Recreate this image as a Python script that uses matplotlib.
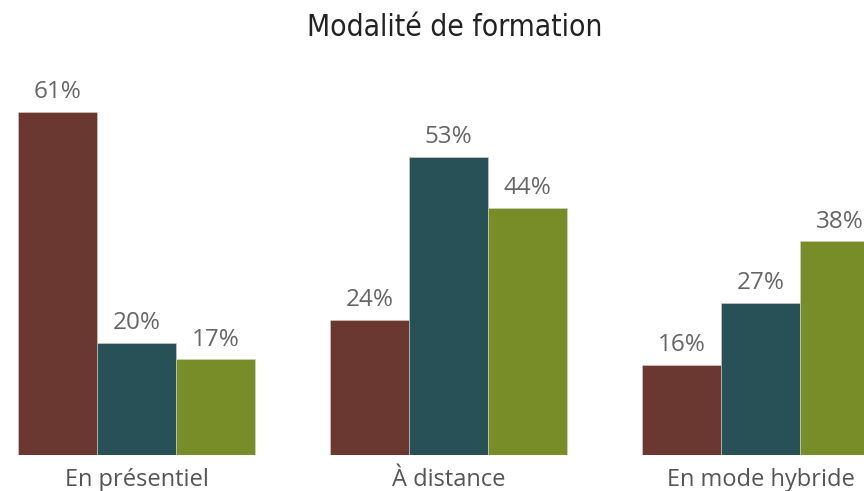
import matplotlib.pyplot as plt
import numpy as np

categories = ["En présentiel", "À distance", "En mode hybride"]
series_a = [61, 24, 16]
series_b = [20, 53, 27]
series_c = [17, 44, 38]
colors = ["#6A3830", "#285057", "#788C28"]

W, H, DPI = 8.64, 4.91, 100
fig = plt.figure(figsize=(W, H), dpi=DPI)

# axes spans full width; baseline at 455 px from top
base_px = 455
top_px = 60
ax = fig.add_axes([0, (H * DPI - base_px) / (H * DPI), 1, (base_px - top_px) / (H * DPI)])

px_per_group = 312
center0 = 136.5
ax.set_xlim(-center0 / px_per_group, (W * DPI - center0) / px_per_group)
px_per_unit = 5.62
ax.set_ylim(0, (base_px - top_px) / px_per_unit)

x = np.arange(len(categories))
bw = 79 / px_per_group
label_font = "Open Sans"
for i, (vals, col) in enumerate(zip([series_a, series_b, series_c], colors)):
    pos = x + (i - 1) * bw
    ax.bar(pos, vals, width=bw, color=col, edgecolor="#d8d0cc", linewidth=0.4)
    for p, v in zip(pos, vals):
        ax.text(p, v + 1.4, f"{v}%", ha="center", va="bottom",
                fontsize=17.5, color="#666666", family=label_font)

ax.set_xticks(x)
ax.set_xticklabels(categories, fontsize=17, color="#555555", family=label_font)
ax.tick_params(axis="x", length=0, pad=9)
ax.set_yticks([])
for s in ax.spines.values():
    s.set_visible(False)

fig.text(455 / (W * DPI), 1 - 27 / (H * DPI), "Modalité de formation",
         ha="center", va="center", fontsize=21.5, color="#222222",
         family="DejaVu Sans", stretch="condensed")

fig.savefig("out.png", dpi=DPI)
